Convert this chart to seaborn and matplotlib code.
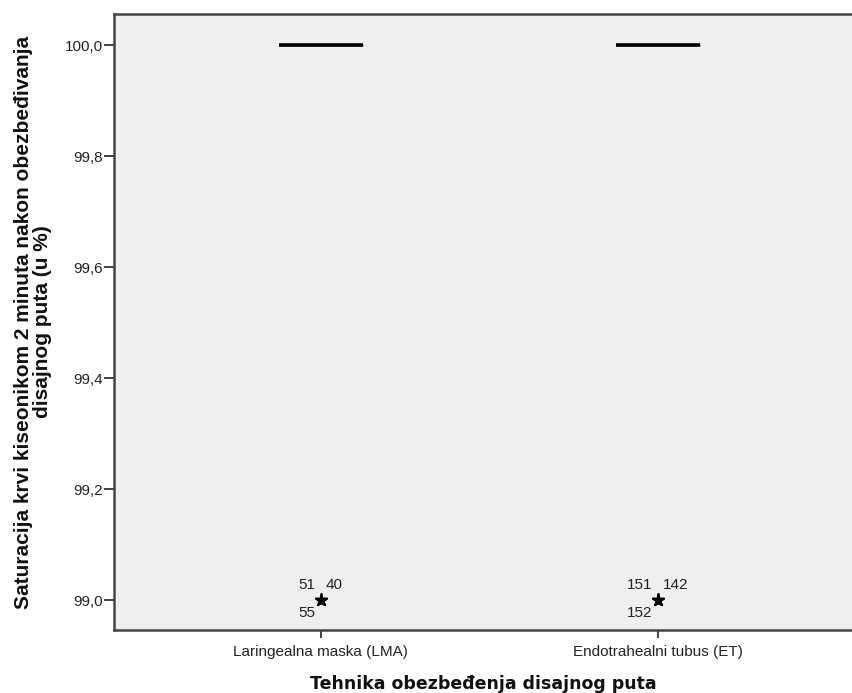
import matplotlib
matplotlib.use("Agg")
import matplotlib.pyplot as plt
from matplotlib.ticker import FuncFormatter, FixedLocator
import pandas as pd
import seaborn as sns

# Study groups
categories = ["Laringealna maska (LMA)", "Endotrahealni tubus (ET)"]
# Number of patients per group
group_sizes = [76, 76]
# Saturation recorded for most patients and for the few outliers
typical_saturation = 100.0
outlier_saturation = 99.0
# Case numbers of the outlying patients in each group
outlier_cases = [[51, 40, 55], [151, 142, 152]]

y_ticks = [99.0, 99.2, 99.4, 99.6, 99.8, 100.0]

rows = []
for cat, n, cases in zip(categories, group_sizes, outlier_cases):
    for _ in range(n - len(cases)):
        rows.append({"grupa": cat, "saturacija": typical_saturation, "slucaj": None})
    for c in cases:
        rows.append({"grupa": cat, "saturacija": outlier_saturation, "slucaj": c})
df = pd.DataFrame(rows)

sns.set_theme(style="white")
plt.rcParams["font.family"] = ["Liberation Sans", "DejaVu Sans"]

W, H = 852, 693
fig = plt.figure(figsize=(W / 100, H / 100), dpi=100)
ax = fig.add_axes([114 / W, (H - 630) / H, (W - 114) / W, (630 - 14) / H])
ax.set_facecolor("#efefef")

sns.boxplot(
    data=df, x="grupa", y="saturacija", order=categories, ax=ax,
    width=0.25, color="#efefef", linecolor="black", linewidth=1.0,
    showcaps=False,
    medianprops=dict(color="black", linewidth=2.6, solid_capstyle="butt"),
    flierprops=dict(marker="*", markerfacecolor="black", markeredgecolor="black",
                    markersize=9.5, linestyle="none"),
)

# Case numbers beside each outlier star
label_offsets = [(-4.3, 10.8, "right"), (3.6, 10.8, "left"), (-4.3, -9.0, "right")]
for i, cases in enumerate(outlier_cases):
    for case, (dx, dy, ha) in zip(cases, label_offsets):
        ax.annotate(str(case), xy=(i, outlier_saturation), xytext=(dx, dy),
                    textcoords="offset points", ha=ha, va="center",
                    fontsize=11, color="#222222")

ax.set_xlim(-0.614, 1.576)
ax.set_ylim(98.946, 100.056)
ax.yaxis.set_major_locator(FixedLocator(y_ticks))
ax.yaxis.set_major_formatter(FuncFormatter(lambda v, p: f"{v:.1f}".replace(".", ",")))

for side in ["left", "top", "bottom"]:
    ax.spines[side].set_visible(True)
    ax.spines[side].set_color("#444444")
    ax.spines[side].set_linewidth(1.8)
ax.spines["right"].set_visible(False)

ax.tick_params(axis="both", which="major", direction="out", width=1.3,
               color="#333333", labelsize=11, labelcolor="#222222",
               left=True, bottom=True)
ax.tick_params(axis="y", length=7.5, pad=0.5)
ax.tick_params(axis="x", length=6, pad=5)

ax.set_xlabel("Tehnika obezbeđenja disajnog puta", fontsize=12.5,
              fontweight="bold", family="DejaVu Sans", color="#111111", labelpad=11)
ax.set_ylabel("Saturacija krvi kiseonikom 2 minuta nakon obezbeđivanja\ndisajnog puta (u %)",
              fontsize=15, fontweight="bold", color="#111111", labelpad=9,
              linespacing=1.0)

fig.savefig("out.png", dpi=100, facecolor="white")
